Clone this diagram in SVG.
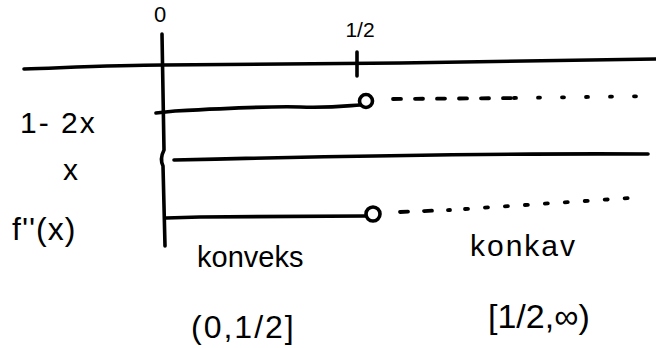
<svg xmlns="http://www.w3.org/2000/svg" width="656" height="348" viewBox="0 0 656 348">
<style>
.s{fill:none;stroke:#000;stroke-width:3.6;stroke-linecap:round;stroke-linejoin:round}
.d{fill:none;stroke:#000;stroke-width:3.8;stroke-linecap:round}
.t{font-family:"Liberation Sans","DejaVu Sans",sans-serif;fill:#000}
</style>
<rect width="656" height="348" fill="#fff"/>
<g id="axes">
<path class="s" d="M24 69 C80 67 120 65 163 65 L400 63 C500 62 580 60 656 59"/>
<path class="s" d="M162 34 L164 150 C161 156 161 162 163 166 L165 246"/>
<path class="s" d="M357 52 L357 76"/>
</g>
<g id="labels-top">
<text class="t" x="160" y="22" font-size="22" text-anchor="middle">0</text>
<text class="t" x="360" y="37" font-size="21" text-anchor="middle">1/2</text>
</g>
<g id="row1">
<text class="t" x="20" y="133" font-size="30" letter-spacing="2">1- 2x</text>
<path class="s" d="M156 113 L175 111 C230 108 270 106 300 107 C330 108 345 106 360 105"/>
<circle class="s" cx="366" cy="101" r="6.5"/>
<path class="d" stroke-dasharray="8 14" d="M393 99 L520 98"/>
<path class="d" stroke-dasharray="2 22" d="M514 98 L656 96"/>
</g>
<g id="row2">
<text class="t" x="63" y="180" font-size="30">x</text>
<path class="s" d="M174 160 C300 157 500 153 648 154"/>
</g>
<g id="row3">
<text class="t" x="12" y="240" font-size="32" letter-spacing="1">f''(x)</text>
<path class="s" d="M166 218 L200 217 L366 216"/>
<circle class="s" cx="373" cy="214" r="7"/>
<path class="d" stroke-dasharray="8 16" d="M400 212 L450 210"/>
<path class="d" stroke-dasharray="3 17" d="M465 209 L630 198"/>
</g>
<g id="bottom">
<text class="t" x="197" y="267" font-size="29">konveks</text>
<text class="t" x="470" y="256" font-size="30" letter-spacing="2">konkav</text>
<text class="t" x="191" y="338" font-size="32" letter-spacing="2">(0,1/2]</text>
<text class="t" x="488" y="328" font-size="34">[1/2,∞)</text>
</g>
</svg>
